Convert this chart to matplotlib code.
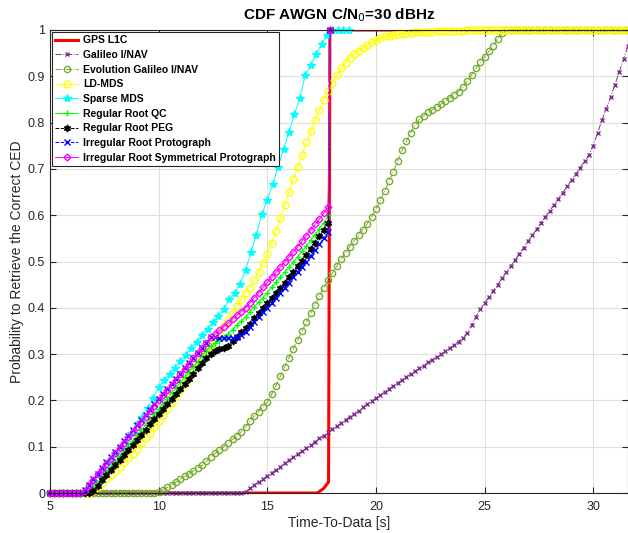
import numpy as np
import matplotlib
matplotlib.use('Agg')
import matplotlib.pyplot as plt

plt.rcParams['font.family'] = ['Liberation Sans', 'DejaVu Sans']

# --- data ---
# GPS L1C
x_gps = [5.0, 17.3, 17.6, 17.82, 17.88, 31.6]
y_gps = [0.0, 0.0, 0.01, 0.024, 1.0, 1.0]

# Galileo I/NAV (0.2 s steps from 5.0)
y_gal = [0.0] * 45 + [
    0.003, 0.010, 0.017, 0.024, 0.030, 0.037, 0.044, 0.050, 0.057, 0.064,
    0.071, 0.077, 0.084, 0.091, 0.097, 0.104, 0.111, 0.118, 0.124, 0.131,
    0.138, 0.144, 0.151, 0.158, 0.165, 0.171, 0.178, 0.185, 0.192, 0.198,
    0.205, 0.212, 0.218, 0.225, 0.231, 0.238, 0.244, 0.251, 0.257, 0.263,
    0.269, 0.275, 0.282, 0.288, 0.294, 0.300, 0.306, 0.313, 0.320, 0.327,
    0.335, 0.346, 0.362, 0.381, 0.397, 0.410, 0.424, 0.437, 0.450, 0.464,
    0.477, 0.490, 0.503, 0.517, 0.530, 0.544, 0.557, 0.570, 0.584, 0.597,
    0.610, 0.623, 0.636, 0.649, 0.662, 0.676, 0.689, 0.703, 0.716, 0.730,
    0.750, 0.778, 0.805, 0.830, 0.855, 0.882, 0.910, 0.938, 0.966]

# Evolution Galileo I/NAV (0.2 s steps from 5.0)
y_evo = [0.0] * 25 + [
    0.002, 0.006, 0.012, 0.018, 0.024, 0.030, 0.036, 0.042, 0.048, 0.054,
    0.060, 0.069, 0.078, 0.086, 0.093, 0.100, 0.108, 0.116, 0.124, 0.132,
    0.142, 0.155, 0.166, 0.176, 0.186, 0.196, 0.213, 0.232, 0.252, 0.272,
    0.292, 0.312, 0.331, 0.350, 0.369, 0.388, 0.407, 0.426, 0.443, 0.459,
    0.475, 0.490, 0.505, 0.519, 0.532, 0.545, 0.557, 0.569, 0.582, 0.596,
    0.613, 0.632, 0.652, 0.673, 0.694, 0.716, 0.740, 0.760, 0.778, 0.794,
    0.807, 0.815, 0.822, 0.828, 0.834, 0.840, 0.847, 0.854, 0.860, 0.867,
    0.876, 0.890, 0.903, 0.917, 0.930, 0.942, 0.954, 0.966, 0.981, 0.993,
    1.0] + [1.0] * 28

# LD-MDS (0.2 s steps from 5.0)
y_ld = [0.0] * 10 + [
    0.004, 0.012, 0.021, 0.030, 0.039, 0.048, 0.057, 0.066, 0.075, 0.085,
    0.096, 0.107, 0.118, 0.130, 0.142, 0.155, 0.168, 0.181, 0.195, 0.209,
    0.223, 0.237, 0.251, 0.265, 0.279, 0.293, 0.306, 0.319, 0.333, 0.346,
    0.360, 0.374, 0.389, 0.403, 0.418, 0.432, 0.442, 0.460, 0.478, 0.497,
    0.516, 0.539, 0.566, 0.594, 0.621, 0.650, 0.678, 0.705, 0.730, 0.758,
    0.781, 0.806, 0.828, 0.849, 0.868, 0.885, 0.902, 0.917, 0.929, 0.940,
    0.948, 0.955, 0.962, 0.968, 0.974, 0.979, 0.983, 0.986, 0.988, 0.990,
    0.991, 0.992, 0.993, 0.994, 0.995, 0.995, 0.996, 0.996, 0.996, 0.997,
    0.997, 0.997, 0.997, 0.998, 0.998, 0.998] + [0.999] * 38

# Sparse MDS (0.25 s steps from 5.0)
y_sp = [0.0] * 7 + [
    0.010, 0.025, 0.040, 0.055, 0.070, 0.085, 0.100, 0.115, 0.130, 0.148,
    0.165, 0.183, 0.205, 0.228, 0.243, 0.257, 0.271, 0.285, 0.299, 0.313,
    0.327, 0.341, 0.355, 0.369, 0.383, 0.397, 0.418, 0.432, 0.452, 0.482,
    0.520, 0.558, 0.602, 0.633, 0.667, 0.705, 0.743, 0.780, 0.818, 0.853,
    0.903, 0.925, 0.948, 0.970, 0.990, 1.0, 1.0, 1.0, 1.0]

# Regular Root QC, Regular Root PEG, Irregular Root Protograph,
# Irregular Root Symmetrical Protograph (0.2 s steps from 5.0, last point 17.9)
y_qc = [0.0] * 9 + [
    0.004, 0.012, 0.022, 0.033, 0.045, 0.056, 0.068, 0.079, 0.090, 0.102,
    0.113, 0.125, 0.136, 0.147, 0.159, 0.170, 0.182, 0.193, 0.204, 0.216,
    0.227, 0.239, 0.250, 0.261, 0.273, 0.284, 0.296, 0.307, 0.317, 0.323,
    0.329, 0.336, 0.344, 0.353, 0.362, 0.371, 0.380, 0.391, 0.402, 0.412,
    0.422, 0.433, 0.444, 0.455, 0.466, 0.477, 0.488, 0.499, 0.510, 0.522,
    0.534, 0.546, 0.558, 0.571, 0.584, 0.600, 1.0]
y_peg = [0.0] * 10 + [
    0.005, 0.016, 0.027, 0.038, 0.049, 0.060, 0.071, 0.082, 0.093, 0.104,
    0.115, 0.126, 0.137, 0.148, 0.159, 0.170, 0.181, 0.192, 0.203, 0.214,
    0.225, 0.236, 0.247, 0.258, 0.269, 0.280, 0.291, 0.300, 0.306, 0.310,
    0.313, 0.318, 0.328, 0.338, 0.347, 0.356, 0.366, 0.377, 0.388, 0.399,
    0.410, 0.421, 0.432, 0.443, 0.454, 0.466, 0.478, 0.490, 0.502, 0.514,
    0.527, 0.540, 0.554, 0.568, 0.584, 1.0]
y_irr = [0.0] * 8 + [
    0.006, 0.018, 0.030, 0.042, 0.054, 0.066, 0.077, 0.089, 0.100, 0.112,
    0.123, 0.135, 0.146, 0.158, 0.169, 0.180, 0.192, 0.203, 0.214, 0.225,
    0.236, 0.247, 0.258, 0.269, 0.280, 0.291, 0.303, 0.314, 0.325, 0.336,
    0.336, 0.335, 0.335, 0.335, 0.335, 0.336, 0.341, 0.348, 0.358, 0.369,
    0.380, 0.390, 0.400, 0.411, 0.421, 0.432, 0.443, 0.454, 0.466, 0.477,
    0.489, 0.500, 0.512, 0.524, 0.537, 0.550, 0.563, 1.0]
y_sym = [0.0] * 8 + [
    0.005, 0.017, 0.028, 0.040, 0.051, 0.063, 0.074, 0.086, 0.097, 0.108,
    0.120, 0.131, 0.143, 0.154, 0.165, 0.177, 0.188, 0.200, 0.211, 0.222,
    0.234, 0.245, 0.257, 0.268, 0.279, 0.291, 0.302, 0.314, 0.325, 0.336,
    0.343, 0.351, 0.359, 0.367, 0.376, 0.384, 0.392, 0.400, 0.411, 0.422,
    0.433, 0.444, 0.455, 0.466, 0.477, 0.488, 0.499, 0.510, 0.521, 0.532,
    0.544, 0.556, 0.568, 0.580, 0.592, 0.604, 0.618, 1.0]

x02 = np.round(np.arange(5.0, 31.61, 0.2), 2)
x025 = np.arange(5.0, 18.76, 0.25)
x_fam = np.append(np.round(np.arange(5.0, 17.81, 0.2), 2), 17.9)

fig = plt.figure(figsize=(6.28, 5.33), dpi=100)
ax = fig.add_axes([50 / 628, 40 / 533, 578 / 628, 463 / 533])

kw = dict(clip_on=False, lw=0.7)
ax.plot(x_gps, y_gps, '-', color='#ff0000', lw=2.2, label='GPS L1C')
ax.plot(x02, y_gal, '-.', color='#7e2f8e', marker='x', ms=3.5,
        label='Galileo I/NAV', **kw)
ax.plot(x02, y_evo, '-.', color='#77ac30', marker='o', ms=4.5,
        mfc='none', label='Evolution Galileo I/NAV', **kw)
ax.plot(x02, y_ld, '-', color='#ffff00', marker='o', ms=5,
        mfc='none', label='LD-MDS', **kw)
ax.plot(x025, y_sp, '-', color='#00ffff', marker='*', ms=6,
        label='Sparse MDS', **kw)
ax.plot(x_fam, y_qc, '-', color='#00ff00', marker='+', ms=5,
        label='Regular Root QC', **kw)
ax.plot(x_fam, y_peg, '--', color='black', marker=(6, 1, 0), ms=5,
        label='Regular Root PEG', **kw)
ax.plot(x_fam, y_irr, '--', color='#0000ff', marker='x', ms=4,
        label='Irregular Root Protograph', **kw)
ax.plot(x_fam, y_sym, '-', color='#ff00ff', marker='D', ms=3.5, mfc='none',
        label='Irregular Root Symmetrical Protograph', **kw)

ax.set_xlim(5, 31.6)
ax.set_ylim(0, 1)
ax.set_xticks([5, 10, 15, 20, 25, 30])
ax.set_yticks(np.round(np.arange(0, 1.01, 0.1), 1))
ax.set_yticklabels(['0', '0.1', '0.2', '0.3', '0.4', '0.5', '0.6', '0.7',
                    '0.8', '0.9', '1'])
ax.grid(True, color='#dfdfdf', lw=0.8)
ax.set_axisbelow(True)
ax.tick_params(direction='in', top=True, right=True, labelsize=9,
               colors='#262626', length=4)
ax.tick_params(axis='x', pad=6)
for s in ax.spines.values():
    s.set_color('#262626')
    s.set_linewidth(0.8)

ax.set_title('CDF AWGN C/N$_0$=30 dBHz', fontsize=11, fontweight='bold',
             pad=8)
ax.set_xlabel('Time-To-Data [s]', fontsize=10, color='#262626', labelpad=2)
ax.set_ylabel('Probability to Retrieve the Correct CED', fontsize=10,
              color='#262626', labelpad=3)

leg = ax.legend(loc='upper left', prop={'weight': 'bold', 'size': 7.5},
                fancybox=False, edgecolor='#262626', framealpha=1,
                borderaxespad=0.2, handlelength=2.2, labelspacing=0.45,
                borderpad=0.3, handletextpad=0.5)
leg.get_frame().set_linewidth(0.8)

fig.savefig('out.png', dpi=100)
